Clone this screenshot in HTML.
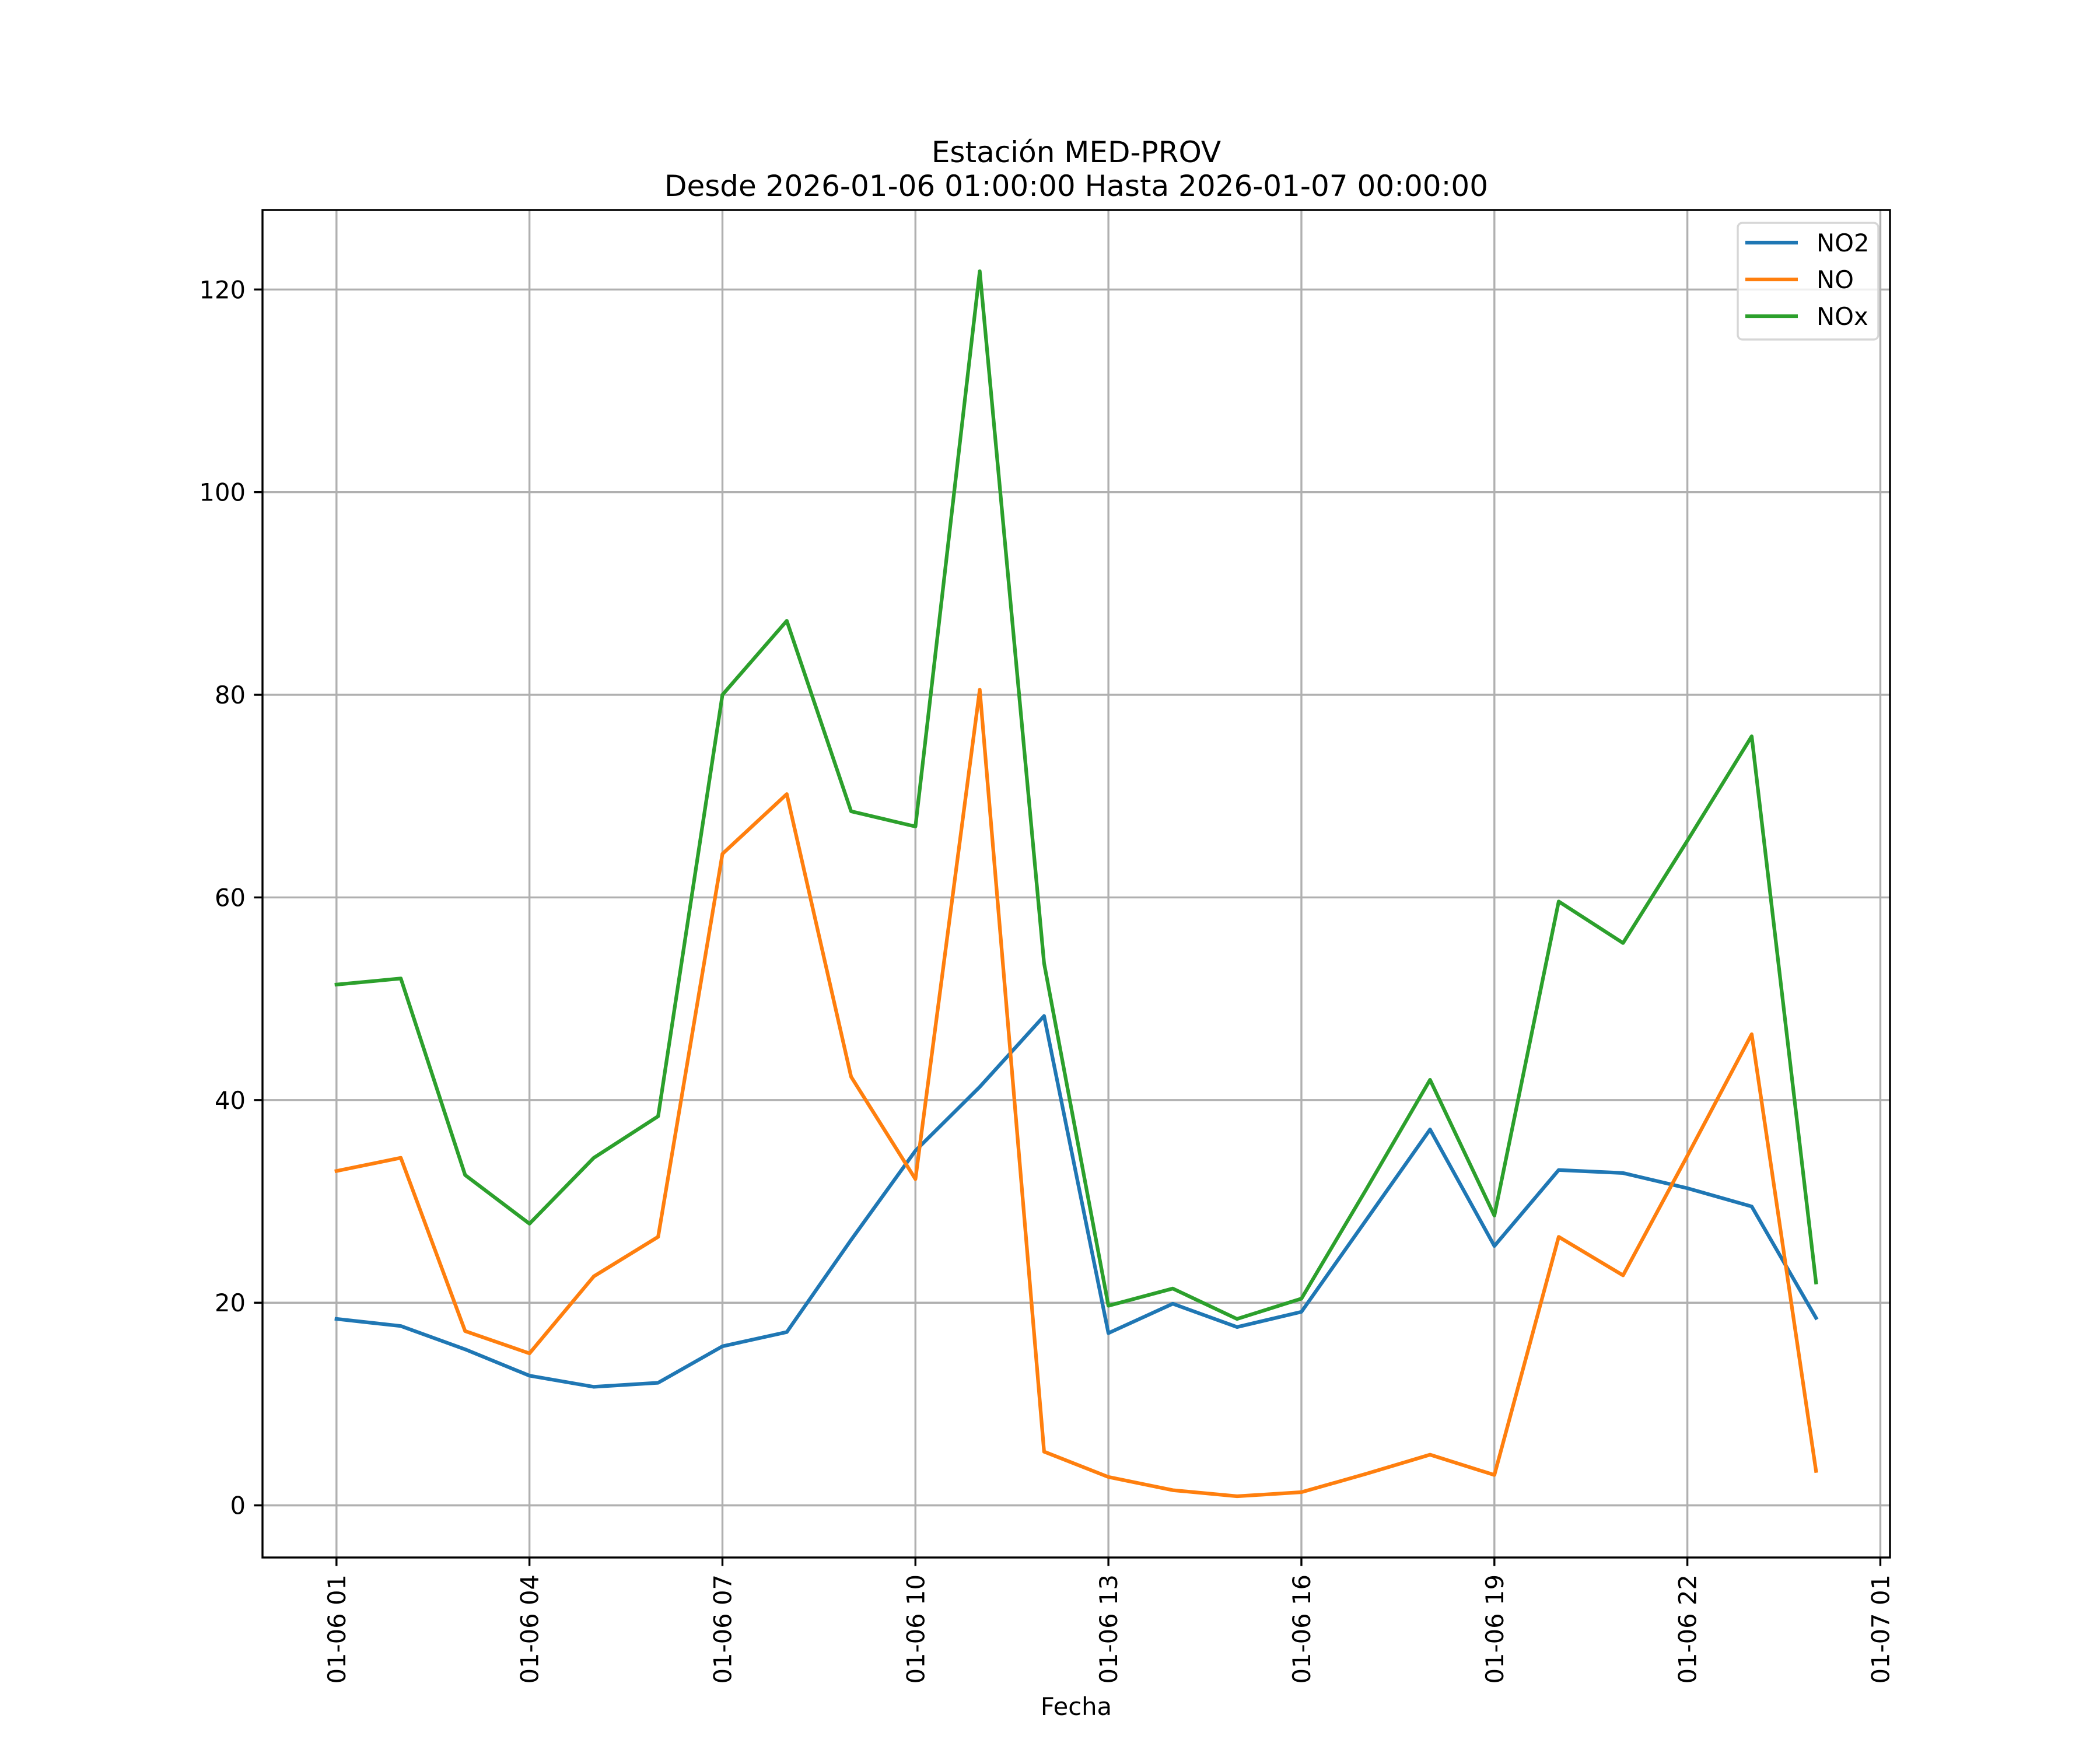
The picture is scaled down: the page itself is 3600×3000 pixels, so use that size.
<!DOCTYPE html>
<html><head><meta charset="utf-8"><style>
html,body{margin:0;padding:0;background:#fff;}
svg{display:block;font-family:"DejaVu Sans","Liberation Sans",sans-serif;}
</style></head><body>
<svg id="chart" width="3600" height="3000" viewBox="0 0 3600 3000" xmlns="http://www.w3.org/2000/svg">
<rect width="3600" height="3000" fill="#fff"/>
<g id="grid"></g>
<g id="series"></g>
<rect x="450" y="360" width="2790" height="2310" fill="none" stroke="#000" stroke-width="3.4"/>
<g id="ticks"></g>
<text x="1845" y="278" text-anchor="middle" font-size="50">Estación MED-PROV</text>
<text x="1845" y="336" text-anchor="middle" font-size="50">Desde 2026-01-06 01:00:00 Hasta 2026-01-07 00:00:00</text>
<text x="1845" y="2940" text-anchor="middle" font-size="41.7">Fecha</text>
<g id="legend"></g>
</svg>
<script>
const hours = [0,1,2,3,4,5,6,7,8,9,10,11,12,13,14,15,16,17,18,19,20,21,22,23];
const no2 = [18.4,17.7,15.4,12.8,11.7,12.1,15.7,17.1,26.2,35,41.3,48.3,17,19.9,17.6,19.1,28.1,37.1,25.6,33.1,32.8,31.3,29.5,18.5];
const no = [33,34.3,17.2,15,22.6,26.5,64.3,70.2,42.3,32.2,80.5,5.3,2.8,1.5,0.9,1.3,3.1,5,3,26.5,22.7,34.5,46.5,3.4];
const nox = [51.4,52,32.6,27.8,34.3,38.4,80,87.3,68.5,67,121.8,53.5,19.7,21.4,18.4,20.4,31.1,42,28.6,59.6,55.5,65.6,75.9,22];
const xTicks = [0,3,6,9,12,15,18,21,24];
const xTickLabels = ["01-06 01","01-06 04","01-06 07","01-06 10","01-06 13","01-06 16","01-06 19","01-06 22","01-07 01"];
const yTicks = [0,20,40,60,80,100,120];
const seriesNames = ["NO2","NO","NOx"];
const colors = ["#1f77b4","#ff7f0e","#2ca02c"];

const NS="http://www.w3.org/2000/svg";
const L=450,R=3240,T=360,B=2670;
const all=[...no2,...no,...nox];
const ymin=Math.min(...all),ymax=Math.max(...all),yr=ymax-ymin;
const y0=ymin-0.05*yr,y1=ymax+0.05*yr;
const xmin0=Math.min(...hours),xmax0=Math.max(...hours),xr=xmax0-xmin0;
const x0=xmin0-0.05*xr,x1=xmax0+0.05*xr;
const sx=v=>L+(v-x0)/(x1-x0)*(R-L);
const sy=v=>B-(v-y0)/(y1-y0)*(B-T);
function mk(tag,attrs,parent){const e=document.createElementNS(NS,tag);for(const k in attrs)e.setAttribute(k,attrs[k]);parent.appendChild(e);return e;}
const grid=document.getElementById('grid'),ticks=document.getElementById('ticks'),ser=document.getElementById('series'),leg=document.getElementById('legend');
xTicks.forEach((t,i)=>{
  const x=sx(t);
  const g=mk('line',{x1:x,x2:x,y1:T,y2:B,stroke:'#b0b0b0','stroke-width':3.4},grid);
  
  
  const tk=mk('line',{x1:x,x2:x,y1:B,y2:B+14.6,stroke:'#000','stroke-width':3.4},ticks);
  
  
  const tx=mk('text',{transform:`translate(${x+15},${B+29}) rotate(-90)`,'text-anchor':'end','font-size':41.7},ticks);
  tx.textContent=xTickLabels[i];
  
  
});
yTicks.forEach(t=>{
  const y=sy(t);
  const g=mk('line',{x1:L,x2:R,y1:y,y2:y,stroke:'#b0b0b0','stroke-width':3.4},grid);
  
  
  const tk=mk('line',{x1:L-14.6,x2:L,y1:y,y2:y,stroke:'#000','stroke-width':3.4},ticks);
  
  
  const tx=mk('text',{x:L-29,y:y+15,'text-anchor':'end','font-size':41.7},ticks);
  tx.textContent=t;
  
  
});
[no2,no,nox].forEach((d,i)=>{
  const p=mk('polyline',{points:d.map((v,j)=>sx(hours[j])+','+sy(v)).join(' '),fill:'none',stroke:colors[i],'stroke-width':6.25,'stroke-linejoin':'round','stroke-linecap':'square'},ser);
  
  
});
const lb=mk('rect',{x:2979,y:382,width:241,height:200,rx:8,fill:'#fff','fill-opacity':0.8,stroke:'#d6d6d6','stroke-width':3.4},leg);


seriesNames.forEach((n,i)=>{
  const y=416+i*63;
  const l=mk('line',{x1:2992,x2:3082,y1:y,y2:y,stroke:colors[i],'stroke-width':6.25},leg);
  
  
  const t=mk('text',{x:3114,y:y+15,'font-size':41.7},leg);
  t.textContent=n;
  
  
});
</script>
</body></html>
